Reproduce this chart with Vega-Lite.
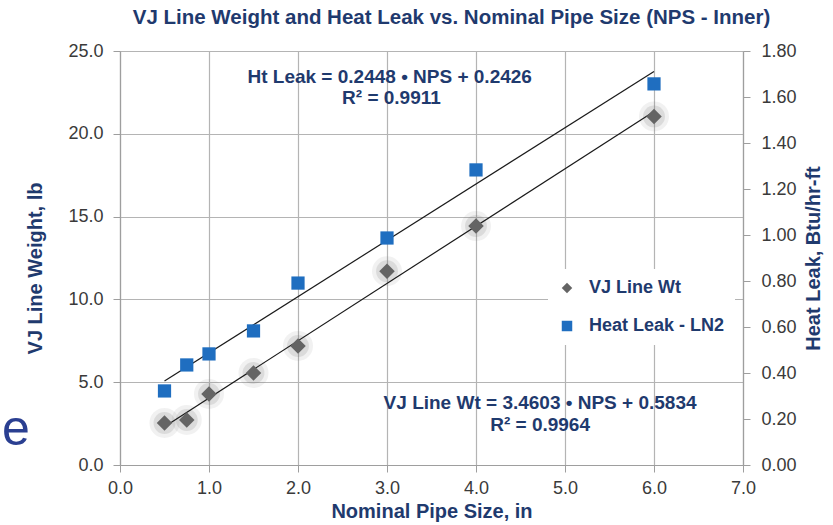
{
  "$schema": "https://vega.github.io/schema/vega-lite/v6.json",
  "width": 623,
  "height": 414,
  "autosize": "none",
  "padding": {"left": 120, "top": 51, "right": 90, "bottom": 60},
  "background": "white",
  "config": {
    "view": {"stroke": null},
    "font": "Liberation Sans",
    "axis": {
      "labelFont": "Liberation Sans",
      "labelFontSize": 18,
      "labelColor": "#3a3a3a",
      "titleFont": "Liberation Sans",
      "titleFontWeight": "bold",
      "titleColor": "#1F3A6E",
      "titleFontSize": 20,
      "domainColor": "#9e9e9e",
      "tickColor": "#9e9e9e",
      "gridColor": "#b4b4b4",
      "gridOpacity": 1,
      "tickSize": 7,
      "domainWidth": 1.2,
      "gridWidth": 1.2,
      "labelFlush": false,
      "labelOverlap": false
    }
  },
  "title": {
    "text": "VJ Line Weight and Heat Leak vs. Nominal Pipe Size  (NPS - Inner)",
    "font": "Liberation Sans",
    "fontSize": 20.5,
    "fontWeight": "bold",
    "color": "#1F3A6E",
    "anchor": "middle",
    "dx": 20,
    "offset": 14
  },
  "datasets": {
    "pts": [
      {"nps": 0.5, "series": "VJ Line Wt", "value": 2.54},
      {"nps": 0.75, "series": "VJ Line Wt", "value": 2.72},
      {"nps": 1.0, "series": "VJ Line Wt", "value": 4.29},
      {"nps": 1.5, "series": "VJ Line Wt", "value": 5.56},
      {"nps": 2.0, "series": "VJ Line Wt", "value": 7.19},
      {"nps": 3.0, "series": "VJ Line Wt", "value": 11.7},
      {"nps": 4.0, "series": "VJ Line Wt", "value": 14.43},
      {"nps": 6.0, "series": "VJ Line Wt", "value": 21.05},
      {"nps": 0.5, "series": "Heat Leak - LN2", "value": 0.322},
      {"nps": 0.75, "series": "Heat Leak - LN2", "value": 0.435},
      {"nps": 1.0, "series": "Heat Leak - LN2", "value": 0.483},
      {"nps": 1.5, "series": "Heat Leak - LN2", "value": 0.583},
      {"nps": 2.0, "series": "Heat Leak - LN2", "value": 0.791},
      {"nps": 3.0, "series": "Heat Leak - LN2", "value": 0.987},
      {"nps": 4.0, "series": "Heat Leak - LN2", "value": 1.283},
      {"nps": 6.0, "series": "Heat Leak - LN2", "value": 1.657}
    ],
    "trend": [
      {"nps": 0.5, "series": "VJ Line Wt", "fit": 2.31},
      {"nps": 6.0, "series": "VJ Line Wt", "fit": 21.35},
      {"nps": 0.5, "series": "Heat Leak - LN2", "fit": 0.365},
      {"nps": 6.0, "series": "Heat Leak - LN2", "fit": 1.711}
    ],
    "notes": [
      {"series": "VJ Line Wt", "label": "VJ Line Wt  = 3.4603 • NPS + 0.5834", "nps": 4.72, "value": 3.74},
      {"series": "VJ Line Wt", "label": "R² = 0.9964", "nps": 4.72, "value": 2.42},
      {"series": "Heat Leak - LN2", "label": "Ht Leak = 0.2448 • NPS + 0.2426", "nps": 3.03, "value": 1.687},
      {"series": "Heat Leak - LN2", "label": "R² = 0.9911", "nps": 3.05, "value": 1.596}
    ],
    "stray": [
      {"label": "e", "nps": -1.17, "value": 2.1}
    ]
  },
  "encoding": {
    "x": {
      "field": "nps",
      "type": "quantitative",
      "scale": {"domain": [0, 7], "nice": false, "zero": false},
      "axis": {
        "title": "Nominal Pipe Size, in",
        "values": [0, 1, 2, 3, 4, 5, 6, 7],
        "format": ".1f",
        "grid": true,
        "labelPadding": 7,
        "titlePadding": 4
      }
    }
  },
  "layer": [
    {
      "encoding": {
        "y": {
          "field": "value",
          "type": "quantitative",
          "scale": {"domain": [0, 25], "nice": false},
          "axis": {
            "title": "VJ Line Weight, lb",
            "values": [0, 5, 10, 15, 20, 25],
            "format": ".1f",
            "grid": true,
            "orient": "left",
            "titlePadding": 22,
            "labelPadding": 10,
            "titleY": 217
          }
        }
      },
      "layer": [
        {
          "data": {"name": "pts"},
          "transform": [{"filter": "datum.series === 'VJ Line Wt'"}],
          "mark": {"type": "point", "shape": "circle", "filled": true, "color": "#7a7a7a", "opacity": 0.1, "size": 900}
        },
        {
          "data": {"name": "pts"},
          "transform": [{"filter": "datum.series === 'VJ Line Wt'"}],
          "mark": {"type": "point", "shape": "circle", "filled": true, "color": "#7a7a7a", "opacity": 0.18, "size": 480}
        },
        {
          "data": {"name": "trend"},
          "transform": [{"filter": "datum.series === 'VJ Line Wt'"}],
          "mark": {"type": "line", "color": "#1a1a1a", "strokeWidth": 1.2},
          "encoding": {"y": {"field": "fit", "type": "quantitative"}}
        },
        {
          "data": {"name": "pts"},
          "transform": [{"filter": "datum.series === 'VJ Line Wt'"}],
          "mark": {"type": "point", "filled": true, "opacity": 1, "size": 240},
          "encoding": {
            "color": {
              "field": "series",
              "type": "nominal",
              "scale": {"domain": ["VJ Line Wt", "Heat Leak - LN2"], "range": ["#646464", "#1F6EC0"]},
              "legend": {
                "title": null,
                "orient": "none",
                "legendX": 428,
                "legendY": 218,
                "fillColor": "white",
                "padding": 10,
                "rowPadding": 20,
                "symbolSize": 110,
                "labelFontSize": 18,
                "labelFontWeight": "bold",
                "labelColor": "#1F3A6E",
                "labelFont": "Liberation Sans",
                "labelOffset": 13,
                "symbolStrokeWidth": 0
              }
            },
            "shape": {
              "field": "series",
              "type": "nominal",
              "scale": {"domain": ["VJ Line Wt", "Heat Leak - LN2"], "range": ["diamond", "square"]}
            }
          }
        },
        {
          "data": {"name": "notes"},
          "transform": [{"filter": "datum.series === 'VJ Line Wt'"}],
          "mark": {"type": "text", "fontSize": 19, "fontWeight": "bold", "color": "#1F3A6E", "align": "center", "baseline": "middle", "font": "Liberation Sans"},
          "encoding": {"text": {"field": "label"}}
        },
        {
          "data": {"name": "stray"},
          "mark": {"type": "text", "fontSize": 50, "color": "#2A3F91", "align": "center", "baseline": "middle", "font": "Liberation Sans"},
          "encoding": {"text": {"field": "label"}}
        }
      ]
    },
    {
      "encoding": {
        "y": {
          "field": "value",
          "type": "quantitative",
          "scale": {"domain": [0, 1.8], "nice": false},
          "axis": {
            "title": "Heat Leak,  Btu/hr-ft",
            "values": [0, 0.2, 0.4, 0.6, 0.8, 1.0, 1.2, 1.4, 1.6, 1.8],
            "format": ".2f",
            "grid": false,
            "orient": "right",
            "titleAngle": 270,
            "titlePadding": 27,
            "labelPadding": 11
          }
        }
      },
      "layer": [
        {
          "data": {"name": "trend"},
          "transform": [{"filter": "datum.series === 'Heat Leak - LN2'"}],
          "mark": {"type": "line", "color": "#1a1a1a", "strokeWidth": 1.2},
          "encoding": {"y": {"field": "fit", "type": "quantitative"}}
        },
        {
          "data": {"name": "pts"},
          "transform": [{"filter": "datum.series === 'Heat Leak - LN2'"}],
          "mark": {"type": "point", "filled": true, "opacity": 1, "size": 175},
          "encoding": {
            "color": {"field": "series", "type": "nominal"},
            "shape": {"field": "series", "type": "nominal"}
          }
        },
        {
          "data": {"name": "notes"},
          "transform": [{"filter": "datum.series === 'Heat Leak - LN2'"}],
          "mark": {"type": "text", "fontSize": 19, "fontWeight": "bold", "color": "#1F3A6E", "align": "center", "baseline": "middle", "font": "Liberation Sans"},
          "encoding": {"text": {"field": "label"}}
        }
      ]
    }
  ],
  "resolve": {"scale": {"y": "independent"}}
}
